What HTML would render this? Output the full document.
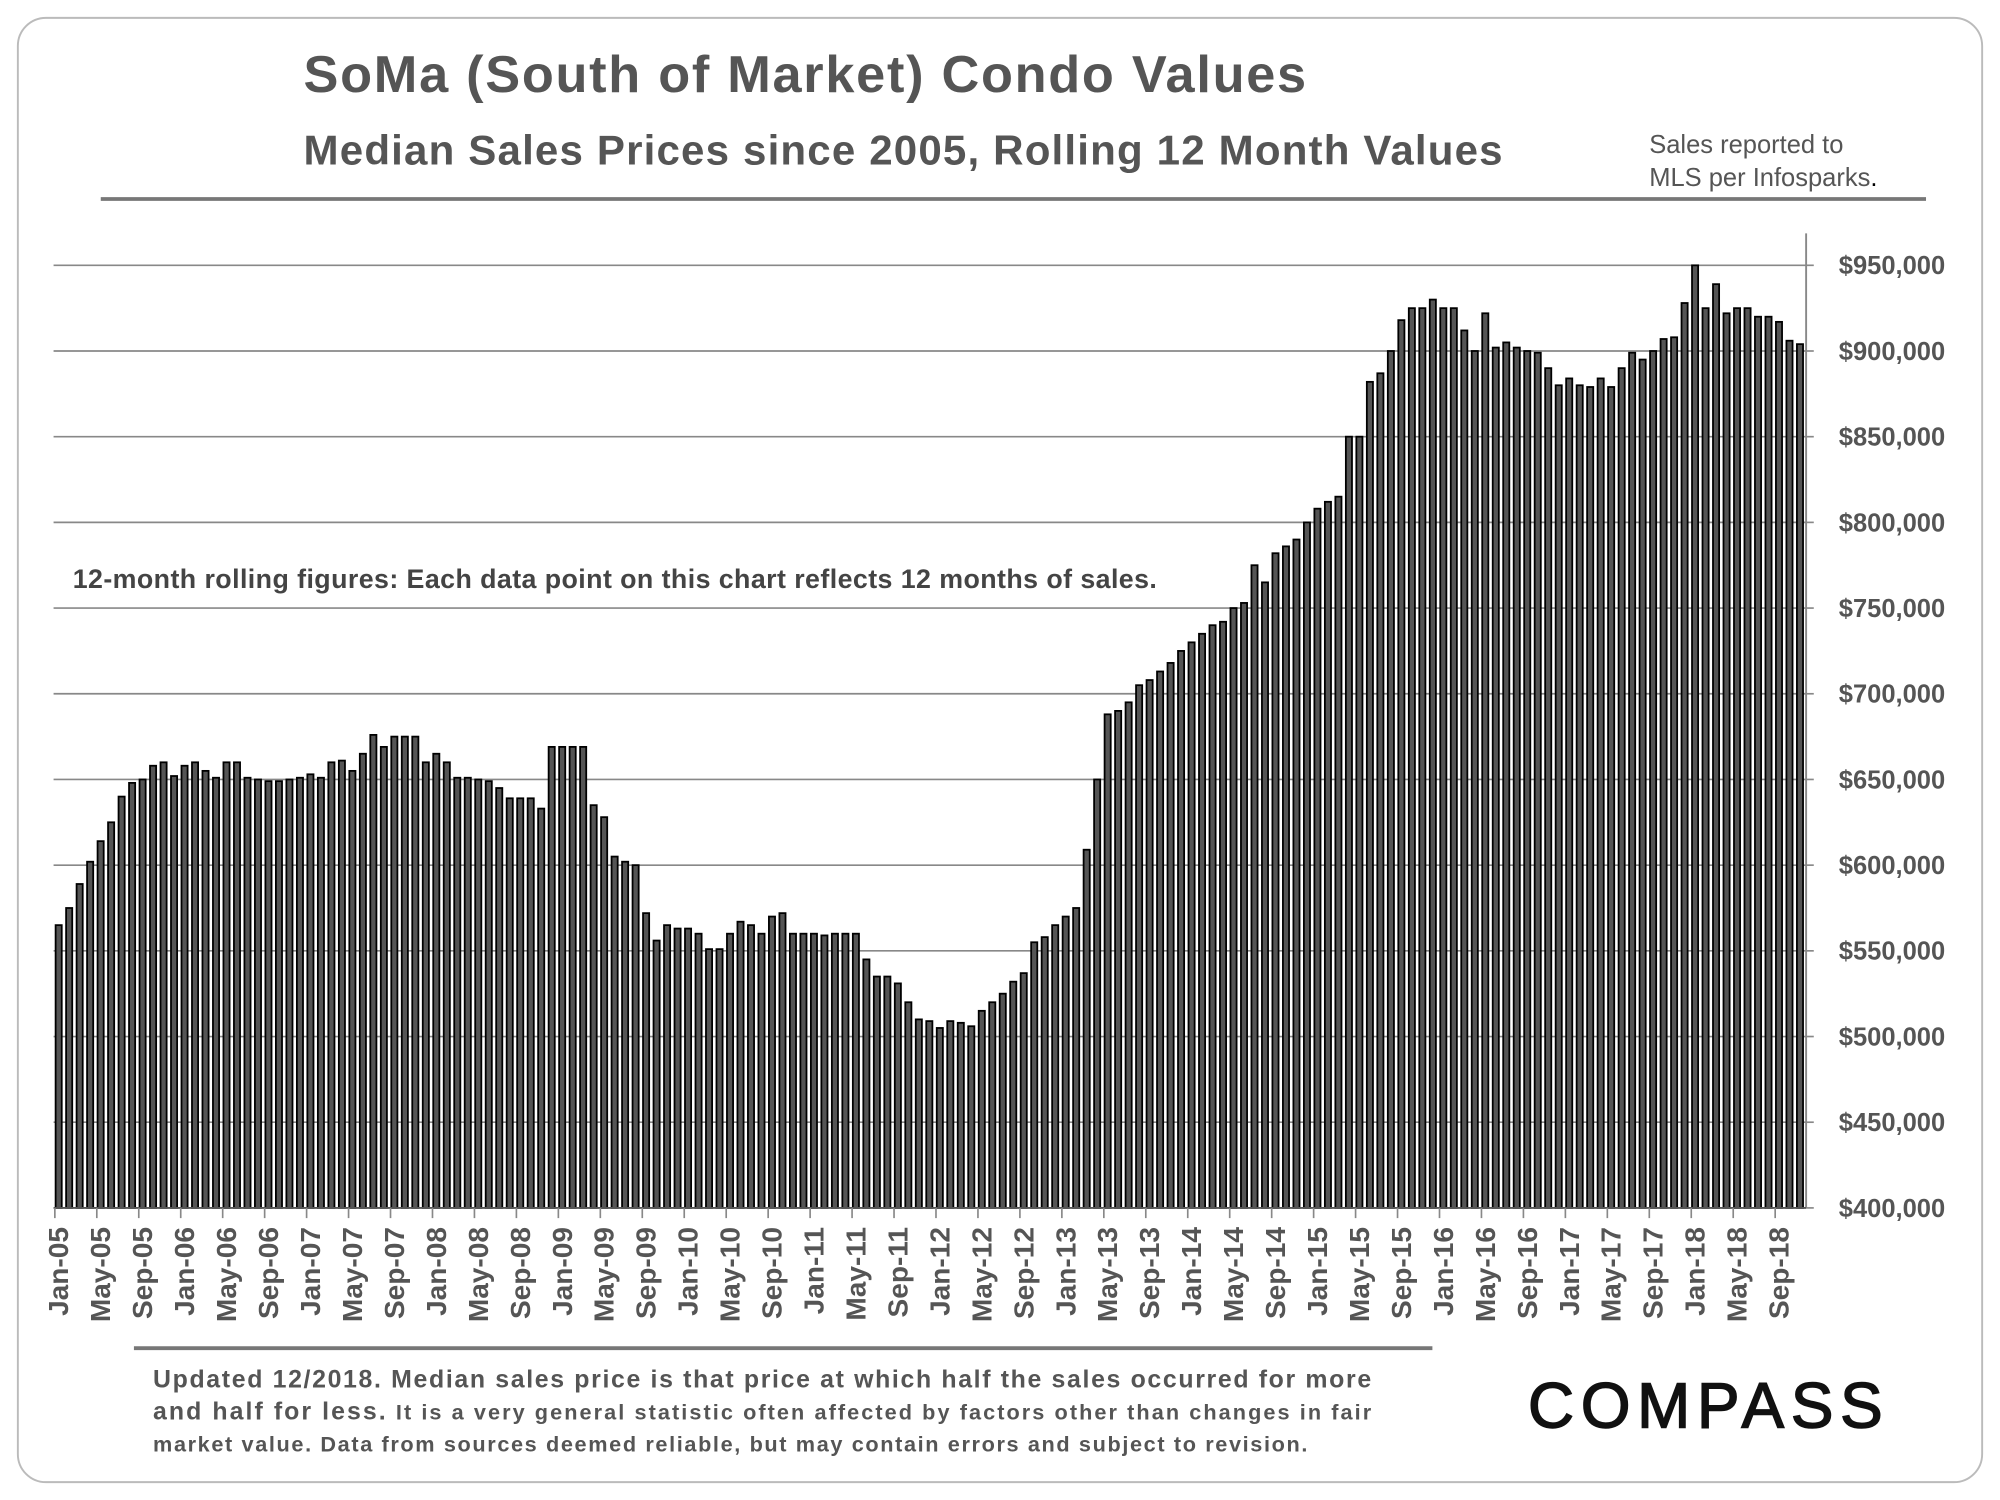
<!DOCTYPE html>
<html><head><meta charset="utf-8"><style>
html,body{margin:0;padding:0;background:#fff;}
svg{display:block;font-family:"Liberation Sans",Arial,sans-serif;}
</style></head><body>
<svg id="chart" width="2000" height="1500" viewBox="0 0 1568 1176" xmlns="http://www.w3.org/2000/svg">
<rect x="14" y="14" width="1540" height="1148" rx="22" fill="#fff" stroke="#bbb" stroke-width="1.5"/>
<text x="238" y="72" font-size="41" font-weight="bold" fill="#555" textLength="786">SoMa (South of Market) Condo Values</text>
<text x="238" y="129" font-size="33" font-weight="bold" fill="#555" textLength="940">Median Sales Prices since 2005, Rolling 12 Month Values</text>
<text x="1293" y="120" font-size="20" fill="#555">Sales reported to</text>
<text x="1293" y="146" font-size="20" fill="#555">MLS per Infosparks<tspan fill="#000">.</tspan></text>
<line x1="79" y1="156" x2="1510" y2="156" stroke="#777" stroke-width="3"/>
<g id="grid"></g>
<g id="bars"></g>
<g id="axes"></g>
<text x="57" y="461" font-size="21" font-weight="bold" fill="#444" textLength="850">12-month rolling figures: Each data point on this chart reflects 12 months of sales.</text>
<line x1="105" y1="1057" x2="1123" y2="1057" stroke="#777" stroke-width="3"/>
<text x="120" y="1088" font-size="19.5" font-weight="bold" fill="#555" textLength="955">Updated 12/2018. Median sales price is that price at which half the sales occurred for more</text>
<text x="120" y="1113" font-size="17" font-weight="bold" fill="#555" textLength="955"><tspan font-size="19.5">and half for less.</tspan> It is a very general statistic often affected by factors other than changes in fair</text>
<text x="120" y="1138" font-size="17" font-weight="bold" fill="#555" textLength="905">market value. Data from sources deemed reliable, but may contain errors and subject to revision.</text>
<text x="1198" y="1119" font-size="50" fill="#111" stroke="#111" stroke-width="1.2" letter-spacing="7" textLength="285">COMPASS</text>
</svg>
<script>
const months = ["Jan","Feb","Mar","Apr","May","Jun","Jul","Aug","Sep","Oct","Nov","Dec"];
const yTicks = [400000,450000,500000,550000,600000,650000,700000,750000,800000,850000,900000,950000];
const values2005 = [565,575,589,602,614,625,640,648,650,658,660,652];
const values2006 = [658,660,655,651,660,660,651,650,649,649,650,651];
const values2007 = [653,651,660,661,655,665,676,669,675,675,675,660];
const values2008 = [665,660,651,651,650,649,645,639,639,639,633,669];
const values2009 = [669,669,669,635,628,605,602,600,572,556,565,563];
const values2010 = [563,560,551,551,560,567,565,560,570,572,560,560];
const values2011 = [560,559,560,560,560,545,535,535,531,520,510,509];
const values2012 = [505,509,508,506,515,520,525,532,537,555,558,565];
const values2013 = [570,575,609,650,688,690,695,705,708,713,718,725];
const values2014 = [730,735,740,742,750,753,775,765,782,786,790,800];
const values2015 = [808,812,815,850,850,882,887,900,918,925,925,930];
const values2016 = [925,925,912,900,922,902,905,902,900,899,890,880];
const values2017 = [884,880,879,884,879,890,899,895,900,907,908,928];
const values2018 = [950,925,939,922,925,925,920,920,917,906,904];
const series = [values2005,values2006,values2007,values2008,values2009,values2010,values2011,values2012,values2013,values2014,values2015,values2016,values2017,values2018];

const NS="http://www.w3.org/2000/svg";
const yMin=400000,yMax=950000,yTop=208,yBot=947;
const yScale=v=>yBot-(v-yMin)/(yMax-yMin)*(yBot-yTop);
const x0=46,step=8.224;
const xScale=i=>x0+i*step;
function mk(tag,attrs,parent){const e=document.createElementNS(NS,tag);for(const k in attrs)e.setAttribute(k,attrs[k]);parent.appendChild(e);return e;}
const grid=document.getElementById('grid'),bars=document.getElementById('bars'),axes=document.getElementById('axes');
yTicks.forEach(t=>{
  const y=yScale(t);
  if(t>yMin){const l=mk('line',{x1:42,x2:1416,y1:y,y2:y,stroke:'#888','stroke-width':1.3},grid);
  
  }
  const tk=mk('line',{x1:1416,x2:1422,y1:y,y2:y,stroke:'#888','stroke-width':1.3},axes);
  
  
  const tx=mk('text',{x:1525,y:y+7,'text-anchor':'end','font-size':20,'font-weight':'bold',fill:'#555'},axes);
  tx.textContent='$'+t.toLocaleString('en-US');
  
  
});
const ax=mk('line',{x1:1416,x2:1416,y1:183,y2:947,stroke:'#888','stroke-width':1.5},axes);


const bl=mk('line',{x1:42,x2:1416,y1:947,y2:947,stroke:'#555','stroke-width':1.5},axes);


let i=0;
series.forEach((arr,yi)=>{
  arr.forEach((v,mi)=>{
    const x=xScale(i),y=yScale(v*1000);
    const r=mk('rect',{x:x-2.4,y:y,width:4.8,height:yBot-y,fill:'#555',stroke:'#000','stroke-width':1.4},bars);
    
    
    if(i%4===0){
      const tk=mk('line',{x1:x-3,x2:x-3,y1:947,y2:955,stroke:'#888','stroke-width':1.3},axes);
      
      
      const lbl=months[mi]+'-'+String(5+yi).padStart(2,'0');
      const t=mk('text',{x:0,y:0,transform:`translate(${x+7.5},962) rotate(-90)`,'text-anchor':'end','font-size':22,'font-weight':'bold',fill:'#555'},axes);
      t.textContent=lbl;
      
      
    }
    i++;
  });
});
</script>
</body></html>
